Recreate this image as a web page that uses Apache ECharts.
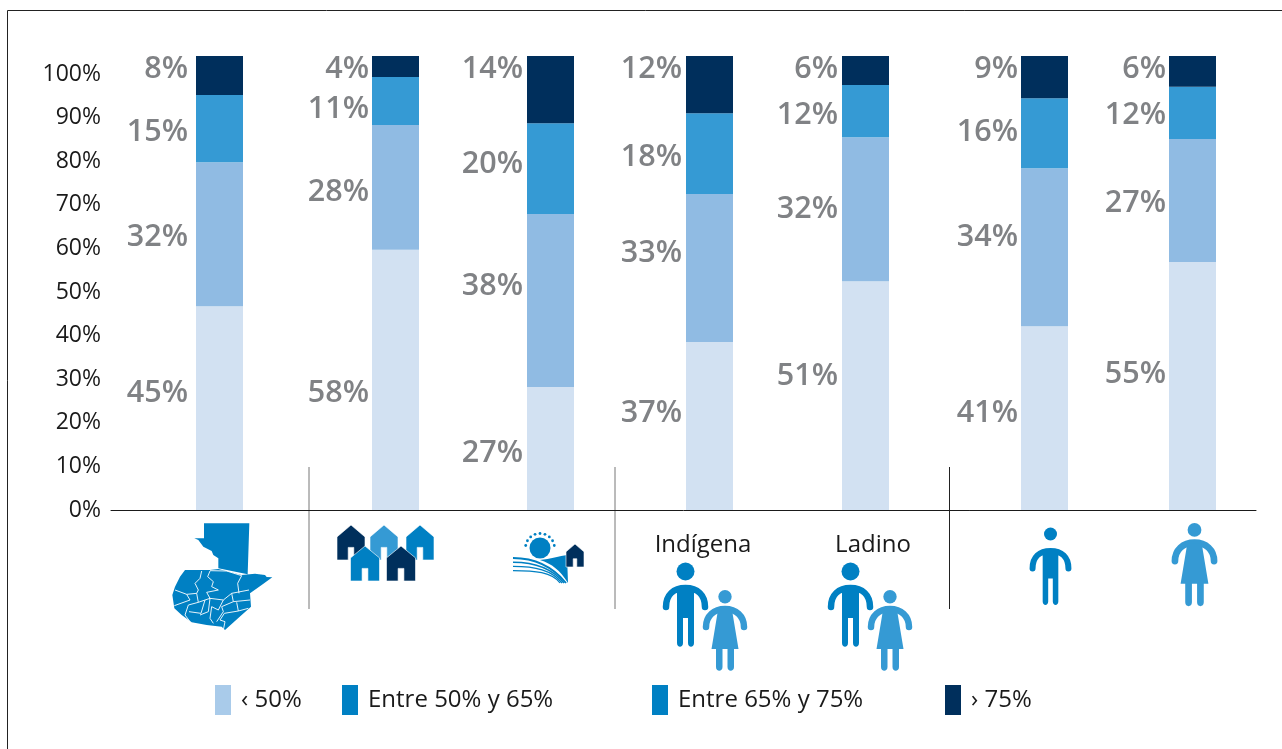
<!DOCTYPE html>
<html><head><meta charset="utf-8">
<style>html,body{margin:0;padding:0;background:#fff}#c{width:1282px;height:749px}</style>
<script src="https://cdn.jsdelivr.net/npm/echarts@6/dist/echarts.min.js"></script>
</head><body><div id="c"></div>
<script>
const groups = ['Guatemala','Urbano','Rural','Indígena','Ladino','Hombre','Mujer'];
const seriesNames = ['‹ 50%','Entre 50% y 65%','Entre 65% y 75%','› 75%'];
const below50 = [44.9,57.3,27.1,37.0,50.4,40.5,54.6];
const from50to65 = [31.7,27.5,38.1,32.6,31.7,34.8,27.1];
const from65to75 = [14.8,10.6,20.0,17.8,11.5,15.4,11.5];
const above75 = [8.6,4.6,14.8,12.6,6.4,9.3,6.8];
const labels0 = ['45%','58%','27%','37%','51%','41%','55%'];
const labels1 = ['32%','28%','38%','33%','32%','34%','27%'];
const labels2 = ['15%','11%','20%','18%','12%','16%','12%'];
const labels3 = ['8%','4%','14%','12%','6%','9%','6%'];
const yTicks = [0,10,20,30,40,50,60,70,80,90,100];

// layout
const values=[below50,from50to65,from65to75,above75];
const texts=[labels0,labels1,labels2,labels3];
const barColors=['#d2e1f2','#90bbe3','#359ad4','#002f5c'];
const legendColors=['#a9cbea','#0080c3','#0080c3','#002f5c'];
const legendLeft=[215,342,652,945];
const barLeft=[196,372,527,686,842,1021,1169];
const labelGap=[8,3,4,4,4,3,3];
const dy=[[-17,1,1.5,-8.5],[11,2.5,6,0],[2.5,-16.5,-6.5,-22.5],[-15,-17,1.5,-17.5],[-21.5,-2,2,-3.5],[-7,-12,-3,-10],[-14,0,0,-4.5]];
const FONT='"Open Sans"';

const grid=[{left:111,right:26,top:74,height:436}];
const xAxis=[{type:'category',gridIndex:0,data:[''],axisLine:{lineStyle:{color:'#1a1a1a',width:1}},axisTick:{show:false},axisLabel:{show:false}}];
const yAxis=[{type:'value',gridIndex:0,min:0,max:100,interval:10,splitLine:{show:false},axisLine:{show:false},axisTick:{show:false},
  axisLabel:{customValues:yTicks,formatter:'{value}%',fontFamily:FONT,fontSize:23,color:'#1a1a1a',margin:10,padding:[5,0,0,0]}}];
const series=[];
groups.forEach((g,i)=>{
  const k=i+1;
  grid.push({left:barLeft[i],width:47,top:56,height:454});
  xAxis.push({type:'category',gridIndex:k,data:[g],show:false});
  yAxis.push({type:'value',gridIndex:k,min:0,max:100,show:false});
  seriesNames.forEach((n,s)=>{
    series.push({type:'bar',name:n,xAxisIndex:k,yAxisIndex:k,stack:'t'+i,barWidth:47,
      itemStyle:{color:barColors[s]},
      silent:true,
      data:[{value:values[s][i],label:{show:true,position:'left',distance:labelGap[i],offset:[0,dy[i][s]+2.5],formatter:texts[s][i],
        fontFamily:FONT,fontSize:30.5,fontWeight:600,color:'#808285'}}]});
  });
});
const legend=seriesNames.map((n,s)=>({left:legendLeft[s],top:685,itemWidth:16,itemHeight:30,itemGap:0,selectedMode:false,
  data:[{name:n,icon:'rect',itemStyle:{color:legendColors[s]}}],
  textStyle:{fontFamily:FONT,fontSize:24,color:'#1a1a1a',padding:[5,0,0,5]},padding:0}));

// --- decorative pictograms ---
const C1='#0080c3',C2='#359ad4',C3='#002f5c';
let pathId=0;
function P(d,style){
  const name='icon'+(pathId++);
  echarts.graphic.registerShape(name,echarts.graphic.extendPath(d,{}));
  return {type:name,style};
}
function house(x,y,w,h,c){
  const l=x-w/2,r=x+w/2,e=y+h*0.34,b=y+h,dw=w*0.2,dh=h*0.36;
  return P(`M${x} ${y}L${r} ${e}V${b}H${x+dw/2}V${b-dh}H${x-dw/2}V${b}H${l}V${e}Z`,{fill:c,stroke:'#fff',lineWidth:.6});
}
function man(cx,top,s,c,hr){
  const t=top;
  return [
    {type:'circle',shape:{cx:cx,cy:t+hr+.5,r:hr},style:{fill:c}},
    P(`M${cx-19.5*s} ${t+45*s}C${cx-19.5*s} ${t+33*s} ${cx-12*s} ${t+26*s} ${cx} ${t+26*s}C${cx+12*s} ${t+26*s} ${cx+19.5*s} ${t+33*s} ${cx+19.5*s} ${t+45*s}`,{fill:'none',stroke:c,lineWidth:6.5*s,lineCap:'round'}),
    P(`M${cx-8.5*s} ${t+26*s}H${cx+8.5*s}V${t+81*s}C${cx+8.5*s} ${t+86*s} ${cx+2.5*s} ${t+86*s} ${cx+2.5*s} ${t+81*s}V${t+56*s}H${cx-2.5*s}V${t+81*s}C${cx-2.5*s} ${t+86*s} ${cx-8.5*s} ${t+86*s} ${cx-8.5*s} ${t+81*s}Z`,{fill:c})
  ];
}
function woman(cx,top,s,c){
  const t=top;
  return [
    {type:'circle',shape:{cx:cx,cy:t+6.7*s,r:6.7*s},style:{fill:c}},
    P(`M${cx-19*s} ${t+37*s}C${cx-19*s} ${t+26*s} ${cx-11*s} ${t+19*s} ${cx} ${t+19*s}C${cx+11*s} ${t+19*s} ${cx+19*s} ${t+26*s} ${cx+19*s} ${t+37*s}`,{fill:'none',stroke:c,lineWidth:6.5*s,lineCap:'round'}),
    P(`M${cx-7*s} ${t+20*s}H${cx+7*s}L${cx+13.5*s} ${t+59*s}H${cx+9*s}V${t+77*s}C${cx+9*s} ${t+82*s} ${cx+2.5*s} ${t+82*s} ${cx+2.5*s} ${t+77*s}V${t+59*s}H${cx-2.5*s}V${t+77*s}C${cx-2.5*s} ${t+82*s} ${cx-9*s} ${t+82*s} ${cx-9*s} ${t+77*s}V${t+59*s}H${cx-13.5*s}Z`,{fill:c})
  ];
}
// map traced in a 3x crop whose origin is (165,515)
function M(pts,close){
  return pts.map((p,i)=>(i?'L':'M')+(165+p[0]/3)+' '+(515+p[1]/3)).join('')+(close?'Z':'');
}
const peten=[[117,25],[253,25],[248,178],[160,160],[160,130],[145,120],[140,108],[115,95],[100,75],[88,70],[117,70]];
const south=[[60,165],[135,165],[160,162],[230,180],[270,176],[300,180],[305,186],[322,187],[290,210],[255,235],[258,275],[230,300],[180,345],[170,335],[125,330],[80,322],[50,300],[28,280],[22,240],[30,215],[45,185]];
const mapLines=[
 [[135,167],[185,168],[230,182],[218,205],[222,235]],
 [[110,168],[105,190],[90,205],[100,225],[95,235],[65,238],[30,225]],
 [[135,168],[128,185],[145,200],[140,215],[160,225],[125,232],[135,250],[175,255],[200,235],[252,225]],
 [[65,238],[75,255],[28,272]],
 [[95,235],[100,262],[70,270],[60,300],[75,320]],
 [[100,262],[120,255],[135,250]],
 [[120,255],[108,295],[72,290]],
 [[135,250],[130,290],[105,300]],
 [[175,255],[160,285],[140,275],[135,310],[145,325]],
 [[200,235],[205,260],[170,275],[175,290],[155,320]],
 [[205,260],[255,255]],
 [[215,262],[220,288],[178,295],[165,315],[180,320],[175,345]],
 [[220,288],[250,280]]
];
const graphic=[
 {type:'rect',shape:{x:7.5,y:10.5,width:1300,height:760},style:{fill:'none',stroke:'#222',lineWidth:1}},
 {type:'line',shape:{x1:309,y1:467,x2:309,y2:609},style:{stroke:'#777',lineWidth:1}},
 {type:'line',shape:{x1:615,y1:467,x2:615,y2:609},style:{stroke:'#777',lineWidth:1}},
 {type:'line',shape:{x1:949.5,y1:467,x2:949.5,y2:609},style:{stroke:'#222',lineWidth:1}},
 P(M(peten,true)+M(south,true),{fill:C1}),
 ...mapLines.map(l=>P(M(l),{fill:'none',stroke:'#fff',lineWidth:.9})),
 house(351,525,28,35,C3),house(384,525,28,35,C2),house(420,525,28,35,C1),house(365,546,29,35,C1),house(401,546,29,35,C3),
 {type:'circle',shape:{cx:540,cy:548,r:10.5},style:{fill:C1}},
 ...[0,1,2,3,4,5,6,7,8].map(i=>{const a=(190+i*20)*Math.PI/180;return {type:'circle',shape:{cx:540+14.5*Math.cos(a),cy:548+14.5*Math.sin(a),r:1.4},style:{fill:C1}};}),
 P('M540 560C550 559 560 556 567 555L568 583C560 570 552 564 540 560Z',{fill:C1}),
 ...[0,1,2,3].map(i=>P(`M513 ${558+i*4.2}C535 ${558+i*4.2} ${552} ${566+i*2} ${566-i*2} 583`,{fill:'none',stroke:C1,lineWidth:1.9-i*.25})),
 house(575,544,18,23,C3),
 {type:'text',style:{text:'Indígena',x:703,y:545,align:'center',verticalAlign:'middle',fontFamily:FONT,fontSize:24,fill:'#1a1a1a'}},
 {type:'text',style:{text:'Ladino',x:873,y:545,align:'center',verticalAlign:'middle',fontFamily:FONT,fontSize:24,fill:'#1a1a1a'}},
 ...man(685.5,562,1,C1,9),...woman(725,590,1,C2),
 ...man(850.5,562,1,C1,9),...woman(890,590,1,C2),
 ...man(1050.5,527,.92,C1,6.5),...woman(1194.5,523,1.03,C2),
];
const chart=echarts.init(document.getElementById('c'),null,{renderer:'canvas'});
chart.setOption({animation:false,backgroundColor:'#fff',grid,xAxis,yAxis,series,legend,graphic,tooltip:{show:false}});
</script></body></html>
